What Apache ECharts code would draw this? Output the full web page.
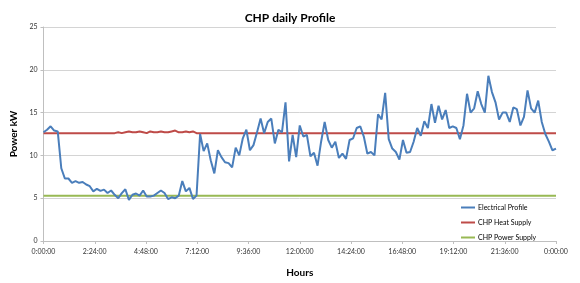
<!DOCTYPE html>
<html><head><meta charset="utf-8">
<script src="https://cdn.jsdelivr.net/npm/echarts@6/dist/echarts.min.js"></script>
<style>html,body{margin:0;padding:0;background:#fff}#c{width:580px;height:283px}</style>
</head><body><div id="c"></div>
<script>
// Time step of the profile (minutes) and day length
const stepMinutes = 10;
const dayMinutes = 1440;
const tickMinutes = 144;

const seriesNames = ['Electrical Profile', 'CHP Heat Supply', 'CHP Power Supply'];

const electrical = [
  12.7, 13.0, 13.4, 12.9, 12.8, 8.5, 7.3, 7.3, 6.8, 7.0, 6.8, 6.9,
  6.6, 6.4, 5.8, 6.1, 5.85, 6.0, 5.6, 5.9, 5.4, 5.0, 5.6, 6.05,
  4.8, 5.4, 5.55, 5.3, 5.9, 5.2, 5.2, 5.3, 5.6, 5.9, 5.6, 4.9,
  5.1, 5.0, 5.3, 7.0, 5.8, 6.2, 4.9, 5.3, 12.5, 10.5, 11.4, 9.4,
  7.9, 10.6, 9.8, 9.2, 9.1, 8.6, 10.9, 10.0, 12.0, 13.0, 10.6, 11.2,
  12.7, 14.3, 12.6, 13.9, 14.3, 11.4, 13.0, 12.7, 16.2, 9.3, 12.4, 9.8,
  13.5, 12.2, 12.4, 9.9, 10.3, 8.8, 11.6, 13.9, 11.8, 10.9, 11.6, 9.7,
  10.2, 9.6, 11.8, 12.0, 13.2, 13.4, 12.2, 10.2, 10.4, 10.0, 14.8, 14.2,
  17.3, 11.9, 10.8, 10.4, 9.5, 11.8, 10.3, 10.4, 11.6, 13.2, 12.3, 14.0,
  13.2, 16.0, 13.8, 15.8, 14.2, 15.3, 13.2, 13.4, 13.2, 11.9, 13.5, 17.2,
  15.0, 15.5, 17.5, 16.0, 15.0, 19.3, 17.4, 16.2, 14.2, 15.0, 15.0, 13.9,
  15.6, 15.4, 13.5, 14.5, 17.6, 15.5, 15.0, 16.4, 13.9, 12.5, 11.6, 10.6,
  10.8
];

const heatSupply = [
  12.6, 12.6, 12.6, 12.6, 12.6, 12.6, 12.6, 12.6, 12.6, 12.6, 12.6, 12.6,
  12.6, 12.6, 12.6, 12.6, 12.6, 12.6, 12.6, 12.6, 12.6, 12.7, 12.6, 12.7,
  12.8, 12.7, 12.7, 12.8, 12.7, 12.6, 12.8, 12.7, 12.7, 12.8, 12.7, 12.7,
  12.8, 12.9, 12.7, 12.7, 12.8, 12.7, 12.8, 12.6, 12.6, 12.6, 12.6, 12.6,
  12.6, 12.6, 12.6, 12.6, 12.6, 12.6, 12.6, 12.6, 12.6, 12.6, 12.6, 12.6,
  12.6, 12.6, 12.6, 12.6, 12.6, 12.6, 12.6, 12.6, 12.6, 12.6, 12.6, 12.6,
  12.6, 12.6, 12.6, 12.6, 12.6, 12.6, 12.6, 12.6, 12.6, 12.6, 12.6, 12.6,
  12.6, 12.6, 12.6, 12.6, 12.6, 12.6, 12.6, 12.6, 12.6, 12.6, 12.6, 12.6,
  12.6, 12.6, 12.6, 12.6, 12.6, 12.6, 12.6, 12.6, 12.6, 12.6, 12.6, 12.6,
  12.6, 12.6, 12.6, 12.6, 12.6, 12.6, 12.6, 12.6, 12.6, 12.6, 12.6, 12.6,
  12.6, 12.6, 12.6, 12.6, 12.6, 12.6, 12.6, 12.6, 12.6, 12.6, 12.6, 12.6,
  12.6, 12.6, 12.6, 12.6, 12.6, 12.6, 12.6, 12.6, 12.6, 12.6, 12.6, 12.6,
  12.6
];

const powerSupply = [
  5.3, 5.3, 5.3, 5.3, 5.3, 5.3, 5.3, 5.3, 5.3, 5.3, 5.3, 5.3,
  5.3, 5.3, 5.3, 5.3, 5.3, 5.3, 5.3, 5.3, 5.3, 5.3, 5.3, 5.3,
  5.3, 5.3, 5.3, 5.3, 5.3, 5.3, 5.3, 5.3, 5.3, 5.3, 5.3, 5.3,
  5.3, 5.3, 5.3, 5.3, 5.3, 5.3, 5.3, 5.3, 5.3, 5.3, 5.3, 5.3,
  5.3, 5.3, 5.3, 5.3, 5.3, 5.3, 5.3, 5.3, 5.3, 5.3, 5.3, 5.3,
  5.3, 5.3, 5.3, 5.3, 5.3, 5.3, 5.3, 5.3, 5.3, 5.3, 5.3, 5.3,
  5.3, 5.3, 5.3, 5.3, 5.3, 5.3, 5.3, 5.3, 5.3, 5.3, 5.3, 5.3,
  5.3, 5.3, 5.3, 5.3, 5.3, 5.3, 5.3, 5.3, 5.3, 5.3, 5.3, 5.3,
  5.3, 5.3, 5.3, 5.3, 5.3, 5.3, 5.3, 5.3, 5.3, 5.3, 5.3, 5.3,
  5.3, 5.3, 5.3, 5.3, 5.3, 5.3, 5.3, 5.3, 5.3, 5.3, 5.3, 5.3,
  5.3, 5.3, 5.3, 5.3, 5.3, 5.3, 5.3, 5.3, 5.3, 5.3, 5.3, 5.3,
  5.3, 5.3, 5.3, 5.3, 5.3, 5.3, 5.3, 5.3, 5.3, 5.3, 5.3, 5.3,
  5.3
];

const yTicks = [0, 5, 10, 15, 20, 25];

function pair(arr) { return arr.map((v, i) => [i * stepMinutes, v]); }
function pad(n) { return (n < 10 ? '0' : '') + n; }
function fmtTime(v) {
  const m = Math.round(v);
  const h = Math.floor(m / 60) % 24;
  return h + ':' + pad(m % 60) + ':00';
}

const FONT = 'Lato';
const chart = echarts.init(document.getElementById('c'), null, {renderer: 'canvas'});
chart.setOption({
  animation: false,
  backgroundColor: '#ffffff',
  textStyle: {fontFamily: FONT},
  title: {
    text: 'CHP daily Profile', left: 'center', top: 7,
    textStyle: {fontFamily: FONT, fontSize: 12, fontWeight: 'bold', color: '#000'}
  },
  grid: {left: 43.5, right: 24, top: 27, bottom: 39},
  legend: {
    data: seriesNames, orient: 'vertical', left: 461, top: 204, padding: 0,
    icon: 'rect', itemWidth: 14, itemHeight: 2, itemGap: 8,
    textStyle: {fontFamily: FONT, fontSize: 7, color: '#000', padding: [0, 0, 0, -2]}
  },
  xAxis: {
    type: 'value', min: 0, max: dayMinutes, interval: tickMinutes,
    name: 'Hours', nameLocation: 'middle', nameGap: 27,
    nameTextStyle: {fontFamily: FONT, fontWeight: 'bold', fontSize: 10, color: '#000'},
    axisLine: {show: true, lineStyle: {color: '#bfbfbf', width: 1}},
    axisTick: {show: true, length: 3, lineStyle: {color: '#bfbfbf'}},
    axisLabel: {fontFamily: FONT, fontSize: 7, color: '#333', margin: 7, formatter: fmtTime},
    splitLine: {show: false}
  },
  yAxis: {
    type: 'value', min: yTicks[0], max: yTicks[yTicks.length - 1], interval: 5,
    name: 'Power kW', nameLocation: 'middle', nameGap: 22, nameRotate: 90,
    nameTextStyle: {fontFamily: FONT, fontWeight: 'bold', fontSize: 10, color: '#000'},
    axisLine: {show: true, lineStyle: {color: '#bfbfbf', width: 1}},
    axisTick: {show: true, length: 3, lineStyle: {color: '#bfbfbf'}},
    axisLabel: {fontFamily: FONT, fontSize: 7, color: '#333', margin: 6},
    splitLine: {show: true, lineStyle: {color: '#d4d4d4', width: 1}}
  },
  series: [
    {name: seriesNames[1], type: 'line', data: pair(heatSupply), showSymbol: false,
     itemStyle: {color: '#be4b48'}, lineStyle: {color: '#be4b48', width: 2}, z: 2},
    {name: seriesNames[2], type: 'line', data: pair(powerSupply), showSymbol: false,
     itemStyle: {color: '#98b954'}, lineStyle: {color: '#98b954', width: 2}, z: 2},
    {name: seriesNames[0], type: 'line', data: pair(electrical), showSymbol: false,
     itemStyle: {color: '#4a7ebb'}, lineStyle: {color: '#4a7ebb', width: 2}, z: 3}
  ]
});
</script></body></html>
